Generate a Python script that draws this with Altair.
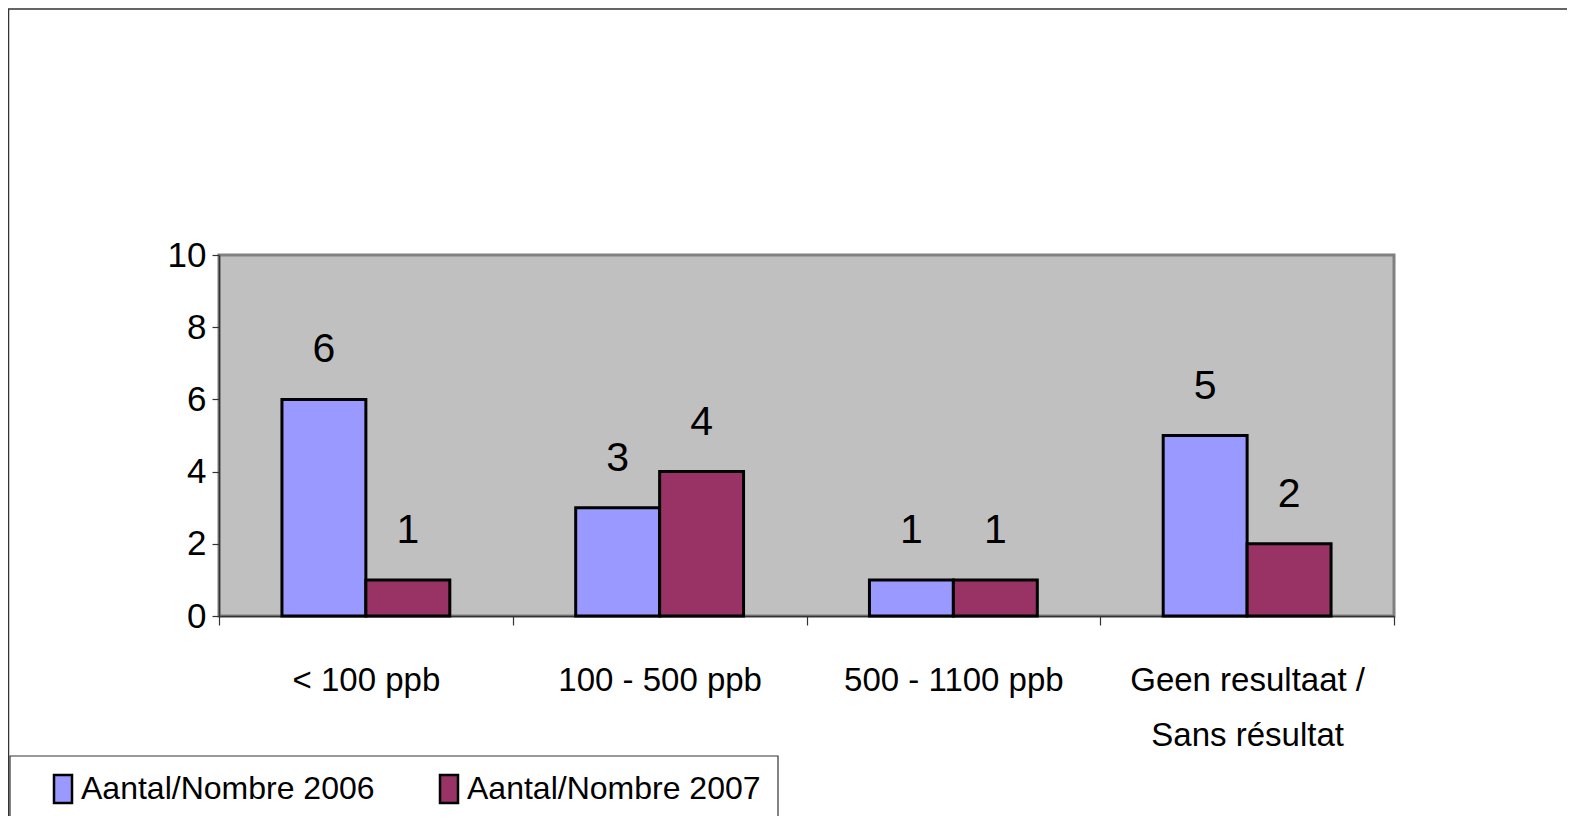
import altair as alt
import pandas as pd

categories = ["< 100 ppb", "100 - 500 ppb", "500 - 1100 ppb", "Geen resultaat / Sans résultat"]
series = ["Aantal/Nombre 2006", "Aantal/Nombre 2007"]
values_2006 = [6, 3, 1, 5]
values_2007 = [1, 4, 1, 2]
colors = ["#9999FF", "#993366"]
y_ticks = [0, 2, 4, 6, 8, 10]

rows = []
for c, v in zip(categories, values_2006):
    rows.append({"cat": c, "series": series[0], "value": v})
for c, v in zip(categories, values_2007):
    rows.append({"cat": c, "series": series[1], "value": v})
df = pd.DataFrame(rows)

FONT = "Liberation Sans, Arial, sans-serif"

x_enc = alt.X(
    "cat:N", sort=categories, title=None,
    scale=alt.Scale(paddingInner=0, paddingOuter=0),
    axis=alt.Axis(
        labelAngle=0, labelFont=FONT, labelFontSize=33, labelColor="black",
        labelPadding=39, labelLineHeight=55, labelBaseline="top",
        tickBand="extent", tickSize=9, tickColor="#333333", tickWidth=1.2,
        domainColor="#333333", domainWidth=1.5, labelLimit=400,
        labelExpr="datum.value == 'Geen resultaat / Sans résultat' ? ['Geen resultaat /', 'Sans résultat'] : datum.value",
    ),
)
xoff_enc = alt.XOffset("series:N", sort=series,
                       scale=alt.Scale(paddingInner=0, paddingOuter=0.75))
y_enc = alt.Y(
    "value:Q", title=None,
    scale=alt.Scale(domain=[0, 10], nice=False),
    axis=alt.Axis(values=y_ticks, grid=False, labelFont=FONT, labelFontSize=35,
                  labelColor="black", labelPadding=6, tickSize=7,
                  tickColor="#333333", tickWidth=1.2, domainColor="#333333",
                  domainWidth=1.5),
)
color_enc = alt.Color(
    "series:N", sort=series,
    scale=alt.Scale(domain=series, range=colors),
    legend=alt.Legend(
        orient="none", legendX=-172, legendY=518, direction="horizontal",
        title=None, symbolType="M-0.643,-1H0.643V1H-0.643Z", symbolSize=784,
        symbolStrokeColor="black", symbolStrokeWidth=2.5, symbolOpacity=1,
        labelFont=FONT, labelFontSize=32, labelColor="black", labelOffset=2,
        columnPadding=58, padding=0, labelLimit=500,
    ),
)

frame = alt.Chart(alt.Data(values=[{}])).mark_rect(
    fill="transparent", stroke="#333333", strokeWidth=1.5
).encode(x=alt.value(-210.5), x2=alt.value(2000), y=alt.value(-246), y2=alt.value(2000))

legend_box = alt.Chart(alt.Data(values=[{}])).mark_rect(
    fill="white", stroke="#333333", strokeWidth=1.2
).encode(x=alt.value(-209), x2=alt.value(559), y=alt.value(501), y2=alt.value(2000))

bars = alt.Chart(df).mark_bar(stroke="black", strokeWidth=3, opacity=1).encode(
    x=x_enc, xOffset=xoff_enc, y=y_enc, color=color_enc
)
labels = alt.Chart(df).mark_text(
    font=FONT, fontSize=41, color="black", dy=-37, baseline="alphabetic"
).encode(
    x=alt.X("cat:N", sort=categories), xOffset=alt.XOffset("series:N", sort=series),
    y="value:Q", text="value:Q"
)

chart = alt.layer(frame, legend_box, bars, labels).properties(
    width=1175, height=361,
    autosize=alt.AutoSizeParams(type="none"),
    padding={"left": 211, "top": 247, "right": 173, "bottom": 200},
    background="white",
).configure_view(
    fill="#C0C0C0", stroke="#808080", strokeWidth=3
)

chart.save("out.html", embed_options={"renderer": "svg", "actions": False})
